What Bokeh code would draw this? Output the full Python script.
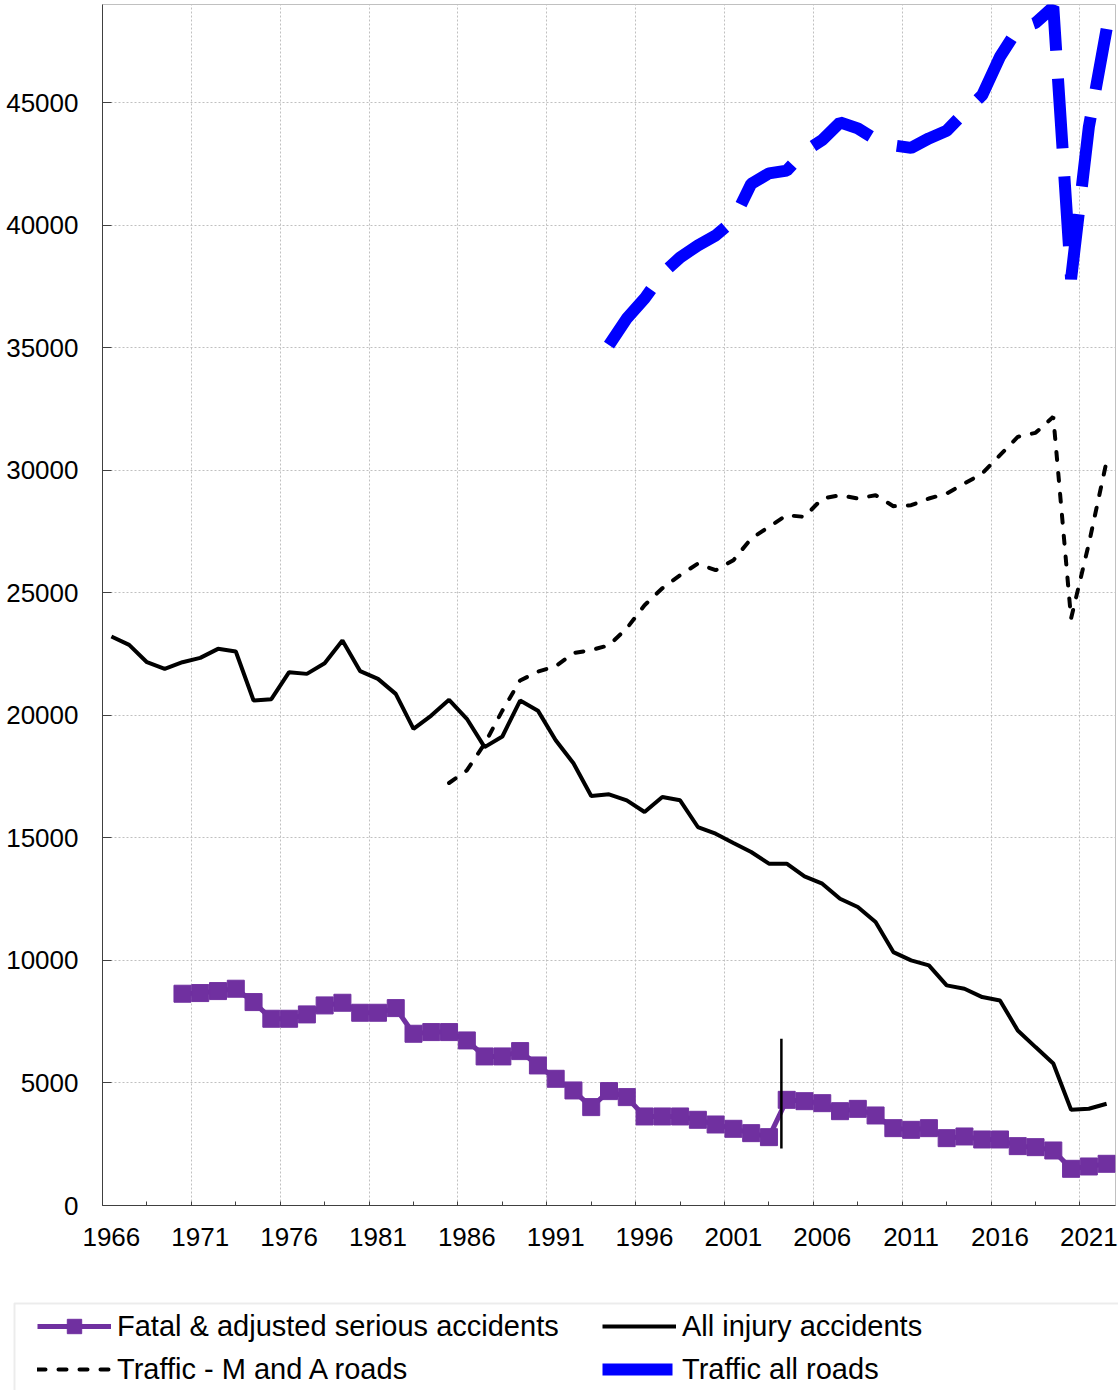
from bokeh.plotting import figure
from bokeh.layouts import column
from bokeh.models import FixedTicker, Range1d, Legend, LegendItem, BoxAnnotation
from bokeh.embed import file_html
from bokeh.resources import INLINE

# ---------------- data ----------------
injury_years = list(range(1966, 2023))
all_injury = [23214, 22874, 22166, 21894, 22166, 22344, 22711, 22602, 20603, 20657,
              21758, 21690, 22125, 23051, 21799, 21486, 20874, 19445, 19990, 20630,
              19857, 18700, 19135, 20603, 20190, 18980, 18041, 16707, 16776, 16531,
              16054, 16667, 16531, 15442, 15170, 14789, 14422, 13946, 13946, 13429,
              13129, 12517, 12177, 11565, 10340, 10000, 9796, 8980, 8844, 8503,
              8367, 7143, 6463, 5796, 3906, 3946, 4150]

fatal_years = list(range(1970, 2023))
fatal_serious = [8640, 8667, 8748, 8844, 8299, 7619, 7619, 7796, 8163, 8272,
                 7864, 7864, 8054, 7007, 7075, 7075, 6735, 6082, 6082, 6299,
                 5714, 5170, 4694, 4014, 4667, 4422, 3633, 3633, 3633, 3497,
                 3305, 3129, 2952, 2789, 4311, 4256, 4175, 3848, 3943, 3673,
                 3156, 3088, 3156, 2748, 2816, 2694, 2694, 2422, 2381, 2245,
                 1497, 1592, 1701]

ma_years = list(range(1985, 2023))
traffic_ma = [17238, 17750, 18836, 20190, 21420, 21780, 22000, 22540, 22660, 22857,
              23551, 24490, 25184, 25714, 26190, 25918, 26327, 27211, 27687, 28163,
              28095, 28844, 28980, 28844, 28980, 28531, 28571, 28844, 29048, 29456,
              29864, 30612, 31361, 31524, 32177, 23946, 27000, 30367]

all_roads_years = list(range(1994, 2023))
traffic_all = [35100, 36190, 37000, 38020, 38680, 39170, 39575, 40190, 41680, 42110,
               42220, 43000, 43470, 44190, 43946, 43500, 43250, 43150, 43537, 43850,
               44600, 45300, 46870, 48000, 48250, 48900, 37800, 44000, 48000]

# series break marker (change in the serious-casualty reporting basis)
break_year = [2003.7]
break_low = [2330]
break_high = [6800]

x_tick_years = [1966, 1971, 1976, 1981, 1986, 1991, 1996, 2001, 2006, 2011, 2016, 2021]
x_tick_labels = ["1966", "1971", "1976", "1981", "1986", "1991", "1996", "2001",
                 "2006", "2011", "2016", "2021"]
y_ticks = [0, 5000, 10000, 15000, 20000, 25000, 30000, 35000, 40000, 45000]

legend_labels = ["Fatal & adjusted serious accidents", "All injury accidents",
                 "Traffic - M and A roads", "Traffic all roads"]

# ---------------- styles ----------------
FONT = "Liberation Sans"
PURPLE = "#7030A0"
BLUE = "#0000FF"
fatal_line_style = dict(line_color=PURPLE, line_width=5)
fatal_pt_style = dict(marker="square", size=17, fill_color=PURPLE, line_color=PURPLE)
injury_style = dict(line_color="black", line_width=4)
ma_style = dict(line_color="black", line_width=4, line_dash="8 13", line_cap="round")
all_style = dict(line_color=BLUE, line_width=12, line_dash="70 28", line_cap="butt")

# ---------------- main figure ----------------
fig = figure(width=1118, height=1290, output_backend="svg", toolbar_location=None,
             x_range=Range1d(1965.5, 2022.5), y_range=Range1d(0, 49000),
             min_border_left=102, min_border_right=3, min_border_top=4,
             min_border_bottom=85)
fig.background_fill_color = "white"
fig.border_fill_color = "white"
fig.outline_line_color = "#c0c0c0"
fig.outline_line_width = 1

fig.xaxis.ticker = FixedTicker(ticks=x_tick_years,
                               minor_ticks=[1965.5 + 2.5 * k for k in range(23)])
fig.xaxis.major_label_overrides = {y: s for y, s in zip(x_tick_years, x_tick_labels)}
fig.xaxis.major_tick_in = 0
fig.xaxis.major_tick_out = 0
fig.xaxis.minor_tick_in = 4
fig.xaxis.minor_tick_out = 0
fig.xaxis.major_label_standoff = 22

fig.yaxis.ticker = FixedTicker(ticks=y_ticks)
fig.yaxis.major_tick_in = 9
fig.yaxis.major_tick_out = 0
fig.yaxis.minor_tick_line_color = None
fig.yaxis.major_label_standoff = 24

for ax in (fig.xaxis, fig.yaxis):
    ax.axis_line_color = "#404040"
    ax.axis_line_width = 1
    ax.major_tick_line_color = "#404040"
    ax.minor_tick_line_color = "#404040"
    ax.major_label_text_font = FONT
    ax.major_label_text_font_size = "26px"
    ax.major_label_text_color = "black"

fig.xgrid.ticker = FixedTicker(ticks=[1970.5 + 5 * k for k in range(11)])
fig.ygrid.ticker = FixedTicker(ticks=y_ticks[1:])
for g in (fig.xgrid, fig.ygrid):
    g.grid_line_color = "#c0c0c0"
    g.grid_line_dash = "2 2"
    g.grid_line_width = 1

fig.line(fatal_years, fatal_serious, **fatal_line_style)
fig.scatter(fatal_years, fatal_serious, **fatal_pt_style)
fig.line(injury_years, all_injury, **injury_style)
fig.line(ma_years, traffic_ma, **ma_style)
fig.line(all_roads_years, traffic_all, **all_style)
fig.segment(x0=break_year, y0=break_low, x1=break_year, y1=break_high,
            line_color="black", line_width=2.5)

# ---------------- legend strip ----------------
leg = figure(width=1118, height=100, output_backend="svg", toolbar_location=None,
             x_range=Range1d(0, 1), y_range=Range1d(0, 1),
             x_axis_type=None, y_axis_type=None,
             min_border_left=0, min_border_right=0, min_border_top=0,
             min_border_bottom=0)
leg.frame_align = False
leg.outline_line_color = None
leg.background_fill_color = "white"
leg.border_fill_color = "white"

nan = float("nan")
k_fl = leg.line([nan], [nan], **fatal_line_style)
k_fp = leg.scatter([nan], [nan], **fatal_pt_style)
k_inj = leg.line([nan], [nan], **injury_style)
k_ma = leg.line([nan], [nan], **ma_style)
k_all = leg.line([nan], [nan], **all_style)

leg.add_layout(BoxAnnotation(left=14, right=1300, top=13, bottom=300,
                             left_units="canvas", right_units="canvas",
                             top_units="canvas", bottom_units="canvas",
                             fill_color=None, line_color="#bfbfbf", line_width=2))

legend = Legend(items=[
    LegendItem(label=legend_labels[0], renderers=[k_fl, k_fp]),
    LegendItem(label=legend_labels[1], renderers=[k_inj]),
    LegendItem(label=legend_labels[2], renderers=[k_ma]),
    LegendItem(label=legend_labels[3], renderers=[k_all]),
], orientation="horizontal", ncols=2, location=(37, 3))
legend.label_text_font = FONT
legend.label_text_font_size = "29px"
legend.label_text_color = "black"
legend.glyph_width = 74
legend.glyph_height = 36
legend.label_height = 30
legend.label_width = 478
legend.label_standoff = 6
legend.spacing = 7
legend.padding = 10
legend.margin = 0
legend.border_line_color = None
legend.background_fill_alpha = 0
leg.add_layout(legend, "center")

p = column(fig, leg, spacing=0)
open("out.html", "w").write(file_html(p, INLINE))
